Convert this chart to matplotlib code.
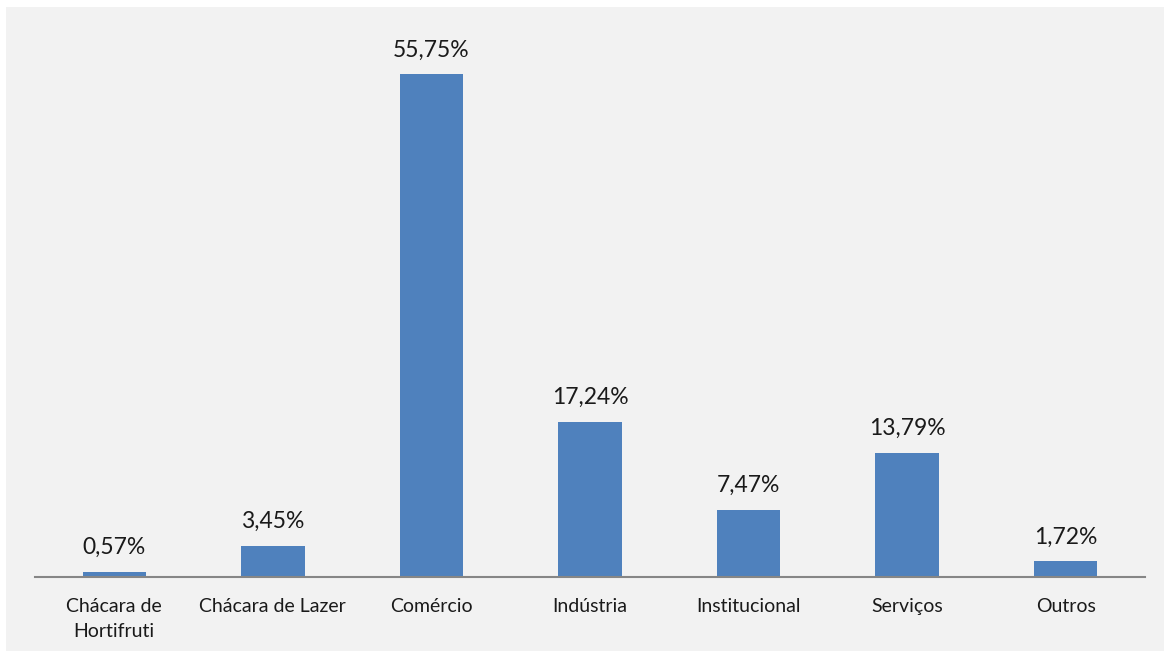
import numpy as np
import matplotlib
matplotlib.use('Agg')
import matplotlib.pyplot as plt
from matplotlib.patches import Rectangle

categories = ['Chácara de\nHortifruti', 'Chácara de Lazer', 'Comércio', 'Indústria',
              'Institucional', 'Serviços', 'Outros']
values = [0.57, 3.45, 55.75, 17.24, 7.47, 13.79, 1.72]
labels = ['0,57%', '3,45%', '55,75%', '17,24%', '7,47%', '13,79%', '1,72%']

plt.rcParams['font.family'] = ['Lato', 'DejaVu Sans']

W, H = 1164, 653
fig = plt.figure(figsize=(W / 100, H / 100), dpi=100, facecolor='white')

# gray chart area, behind the axes
fig.patches.append(Rectangle((6 / W, 2 / H), 1 - 6 / W, (651 - 7) / H,
                             transform=fig.transFigure, facecolor='#f2f2f2',
                             edgecolor='none', zorder=-10))

ax = fig.add_axes([35 / W, 76 / H, 1110 / W, 541 / H])
ax.set_facecolor('none')

x = np.arange(len(categories))
bars = ax.bar(x, values, width=0.4, color='#4f81bd', zorder=2)

for xi, v, lab in zip(x, values, labels):
    ax.annotate(lab, (xi, v), xytext=(0, 10), textcoords='offset points',
                ha='center', va='bottom', fontsize=16.5, color='#1a1a1a')

ax.set_xlim(-0.5, len(categories) - 0.5)
ax.set_ylim(0, 60)
ax.set_yticks([])
ax.set_xticks(x)
ax.set_xticklabels(categories, fontsize=14, color='#1a1a1a', linespacing=1.55)
ax.tick_params(axis='x', length=0, pad=15)

for s in ['top', 'right', 'left']:
    ax.spines[s].set_visible(False)
ax.spines['bottom'].set_color('#868686')
ax.spines['bottom'].set_linewidth(1.5)

fig.savefig('out.png', dpi=100, facecolor='white')
